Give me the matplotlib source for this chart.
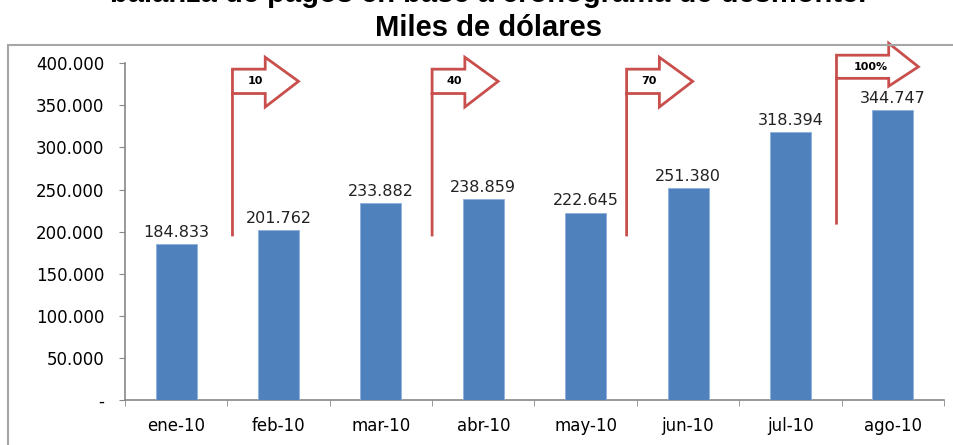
import numpy as np
import matplotlib.pyplot as plt
from matplotlib.patches import Rectangle
from matplotlib.ticker import FuncFormatter

months = ["ene-10", "feb-10", "mar-10", "abr-10", "may-10", "jun-10", "jul-10", "ago-10"]
values = [184833, 201762, 233882, 238859, 222645, 251380, 318394, 344747]
flag_labels = ["10", "40", "70", "100%"]
flag_x = [0.55, 2.5, 4.4, 6.45]

title_cut = "balanza de pagos en base a cronograma de desmonte."
title = "Miles de dólares"


def thousands(v, pos=None):
    if v == 0:
        return "-"
    return f"{v:,.0f}".replace(",", ".")


def draw_flag(ax, x0, label, big=False):
    # flag: vertical pole + outlined right arrow
    if big:
        bottom, top, bbot, htop, hbot = 210000, 409500, 382000, 423700, 372700
        xb, xt = x0 + 0.51, x0 + 0.80
    else:
        bottom, top, bbot, htop, hbot = 196000, 392900, 364000, 407000, 348000
        xb, xt = x0 + 0.32, x0 + 0.645
    mid = (top + bbot) / 2
    xs = [x0, x0, xb, xb, xt, xb, xb, x0]
    ys = [bottom, top, top, htop, mid, hbot, bbot, bbot]
    ax.fill([x0, xb, xb, xt, xb, xb, x0], [top, top, htop, mid, hbot, bbot, bbot],
            color="white", zorder=4, clip_on=False)
    ax.plot(xs, ys, color="#C84F4C", lw=2.0, zorder=5, clip_on=False,
            solid_joinstyle="miter")
    tx = x0 + (0.33 if big else 0.22)
    ax.text(tx, mid, label, ha="center", va="center", fontsize=8,
            fontweight="bold", family="DejaVu Sans", zorder=6, clip_on=False)


def main():
    plt.rcParams['font.family'] = ['DejaVu Sans']
    fig = plt.figure(figsize=(9.54, 4.45), dpi=100)
    ax = fig.add_axes([0.131, 0.101, 0.8585, 0.757])

    # chart area border
    fig.patches.append(Rectangle((0.0084, -0.05), 1.2, 0.949, transform=fig.transFigure,
                                 fill=False, edgecolor="#A6A6A6", lw=1.5))

    pos = np.arange(len(months))
    ax.bar(pos, values, width=0.4, color="#4F81BD", edgecolor="#8EB0DA", lw=0.6, zorder=3)
    for x, v in zip(pos, values):
        ax.text(x, v + 5000, thousands(v), ha="center", va="bottom", fontsize=11.5,
                color="#222222", zorder=3)

    ax.set_xlim(-0.5, 7.5)
    ax.set_ylim(0, 400000)
    ax.set_yticks(np.arange(0, 400001, 50000))
    ax.yaxis.set_major_formatter(FuncFormatter(thousands))
    ax.set_xticks(pos)
    ax.set_xticklabels(months)
    ax.set_xticks(np.arange(-0.5, 8, 1), minor=True)
    ax.tick_params(axis="x", which="major", length=0, pad=12, labelsize=12)
    ax.tick_params(axis="x", which="minor", length=4, color="#888888")
    ax.tick_params(axis="y", length=4, color="#888888", pad=11, labelsize=12)

    for s in ["top", "right"]:
        ax.spines[s].set_visible(False)
    for s in ["left", "bottom"]:
        ax.spines[s].set_color("#888888")
        ax.spines[s].set_linewidth(1.2)

    for i, (x0, lab) in enumerate(zip(flag_x, flag_labels)):
        draw_flag(ax, x0, lab, big=(i == len(flag_x) - 1))

    fig.text(0.512, 1.014, title_cut, ha="center", va="center", fontsize=21,
             fontweight="bold", family="Liberation Sans")
    fig.text(0.512, 0.937, title, ha="center", va="center", fontsize=21,
             fontweight="bold", family="Liberation Sans")

    fig.savefig("out.png", dpi=100)


if __name__ == "__main__":
    main()
